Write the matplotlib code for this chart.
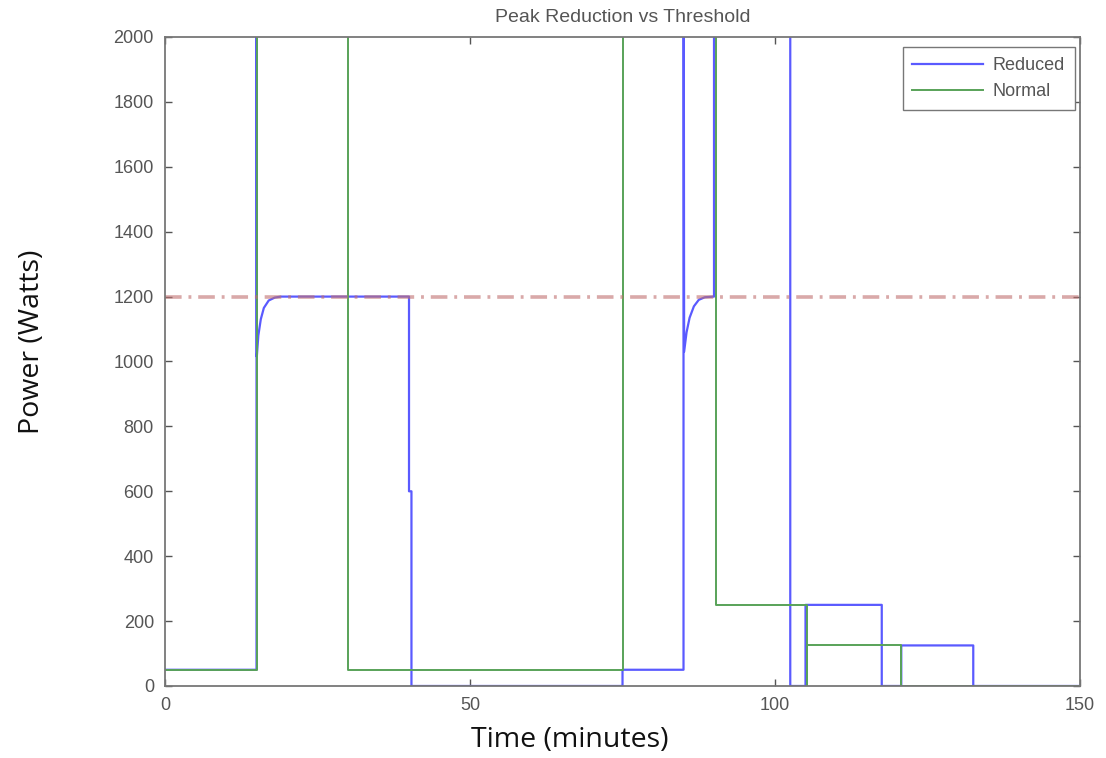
import numpy as np
import matplotlib
matplotlib.use("Agg")
import matplotlib.pyplot as plt

# --------------------------------------------
# DATA
# --------------------------------------------

# Reduced load (time in minutes, power in watts), step points
reduced_t = [0, 15, 15, 15.05, 15.3, 15.7, 16.2, 17.0, 18.0, 19.0, 40.0, 40.0, 40.4, 40.4,
             75, 75, 85, 85, 85.1, 85.5, 86.0, 86.7, 87.5, 88.5, 90.0, 90.0,
             102.5, 102.5, 105, 105, 117.5, 117.5, 120.7, 120.7, 132.5, 132.5, 150]
reduced_p = [50, 50, 3000, 1015, 1080, 1130, 1165, 1188, 1197, 1200, 1200, 600, 600, 0,
             0, 50, 50, 3000, 1030, 1090, 1135, 1170, 1190, 1198, 1200, 3000,
             3000, 0, 0, 250, 250, 0, 0, 125, 125, 0, 0]

# Normal load
normal_t = [0, 15, 15, 30, 30, 75, 75, 90.3, 90.3, 105.2, 105.2, 105.2, 120.7, 120.7, 150]
normal_p = [50, 50, 3000, 3000, 50, 50, 3000, 3000, 250, 250, 0, 125, 125, 0, 0]

threshold = 1200

x_ticks = [0, 50, 100, 150]
y_ticks = list(range(0, 2001, 200))

# --------------------------------------------
# PLOT
# --------------------------------------------

plt.rcParams['font.family'] = ['Liberation Sans', 'DejaVu Sans']

fig = plt.figure(figsize=(11.06, 7.58), dpi=100)
ax = fig.add_axes([0.1492, 0.0950, 0.8273, 0.8562])

ax.plot(reduced_t, reduced_p, color="#5a5aff", linewidth=1.6, label="Reduced")
ax.plot(normal_t, normal_p, color="#58a258", linewidth=1.4, label="Normal")
ax.axhline(threshold, color="#c07070", alpha=0.6, linestyle="-.", linewidth=2.6,
           dashes=(4.6, 1.9, 0.8, 1.9))

ax.set_xlim(0, 150)
ax.set_ylim(0, 2000)
ax.set_xticks(x_ticks)
ax.set_yticks(y_ticks)
ax.tick_params(direction="in", top=True, right=True, length=5, width=1,
               color="#555555", labelcolor="#555555", labelsize=13, pad=8)
for s in ax.spines.values():
    s.set_color("#777777")
    s.set_linewidth(1.3)

ax.set_title("Peak Reduction vs Threshold", fontsize=14, color="#555555", pad=11)

fig.text(570 / 1106, 1 - 740 / 758, "Time (minutes)", ha="center", va="center",
         fontsize=20.5, family=["Open Sans", "DejaVu Sans"], color="#111111")
fig.text(32 / 1106, 1 - 342 / 758, "Power (Watts)", ha="center", va="center",
         rotation=90, fontsize=20.5, family=["Open Sans", "DejaVu Sans"], color="#111111")

leg = ax.legend(loc="upper right", bbox_to_anchor=(0.9945, 0.9846), fancybox=False,
                fontsize=13, handlelength=3.9, handletextpad=0.55, labelspacing=0.5,
                borderaxespad=0, borderpad=0.55, framealpha=1, edgecolor="#777777")
for t in leg.get_texts():
    t.set_color("#555555")

fig.savefig("out.png", dpi=100)
